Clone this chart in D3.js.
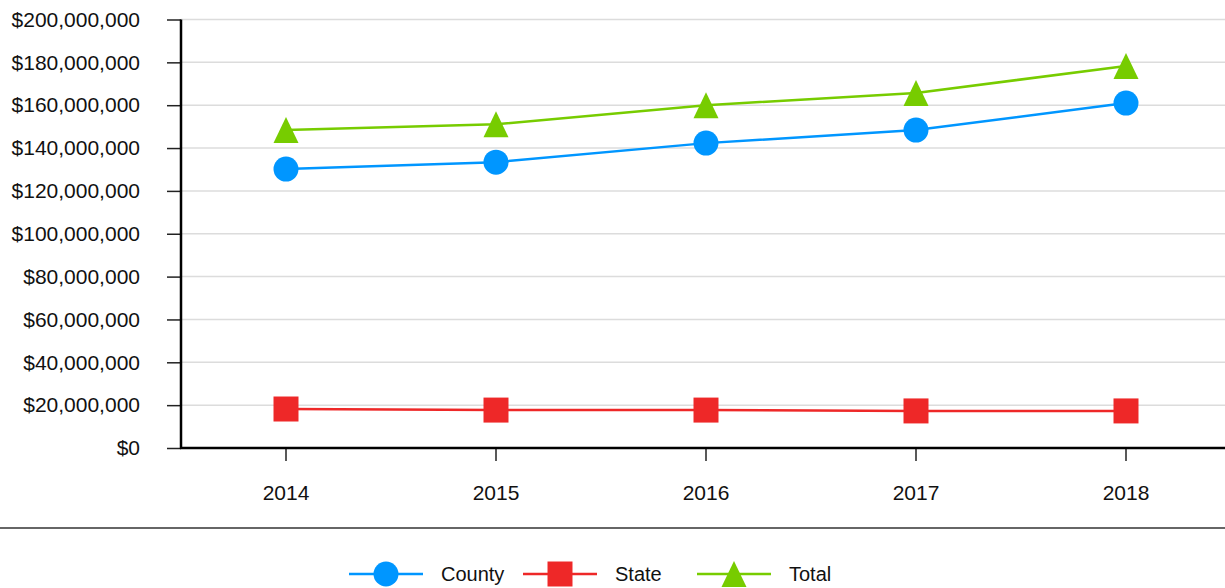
<!DOCTYPE html>
<html>
<head>
<meta charset="utf-8">
<script src="https://cdn.jsdelivr.net/npm/d3@7"></script>
<style>
  body { margin: 0; background: #fff; }
  svg { display: block; font-family: "Liberation Sans", Arial, sans-serif; }
</style>
</head>
<body>
<div id="container"></div>
<script>
// chart data
var years = ["2014", "2015", "2016", "2017", "2018"];
var county = [130200000, 133400000, 142300000, 148400000, 161000000];
var state = [18200000, 17700000, 17700000, 17300000, 17300000];
var total = [148400000, 151100000, 160000000, 165700000, 178300000];
var yTicks = [0, 20000000, 40000000, 60000000, 80000000, 100000000, 120000000, 140000000, 160000000, 180000000, 200000000];
var seriesNames = ["County", "State", "Total"];

var width = 1225, height = 588;
var plotLeft = 181, plotTop = 19.5, plotBottom = 448;
var axisFont = "21px", legendFont = "20px";

var svg = d3.select("div#container")
  .append("svg")
  .attr("width", width)
  .attr("height", height);

var x = d3.scaleBand().domain(years).range([plotLeft, plotLeft + 1050]);
var y = d3.scaleLinear().domain([0, 200000000]).range([plotBottom, plotTop]);

var fmt = function(v) { return "$" + d3.format(",")(v); };

// gridlines
svg.append("g").selectAll("line")
  .data(yTicks.slice(1))
  .enter().append("line")
  .attr("x1", plotLeft).attr("x2", width)
  .attr("y1", function(d) { return y(d); })
  .attr("y2", function(d) { return y(d); })
  .style("stroke", "#dcdcdc")
  .style("stroke-width", 1.5);

// y axis
var yAxis = svg.append("g")
  .attr("transform", "translate(" + plotLeft + ",0)")
  .call(d3.axisLeft(y).tickValues(yTicks).tickFormat(fmt).tickSize(14).tickPadding(27));
yAxis.select(".domain").remove();
yAxis.selectAll(".tick line").style("stroke", "#222").style("stroke-width", 1.5);
yAxis.selectAll("text").style("font-size", axisFont).style("fill", "#111")
  .style("font-family", "'Liberation Sans', Arial, sans-serif");

// x axis
var xAxis = svg.append("g")
  .attr("transform", "translate(0," + plotBottom + ")")
  .call(d3.axisBottom(x).tickSize(13).tickPadding(24));
xAxis.select(".domain").remove();
xAxis.selectAll(".tick line").style("stroke", "#222").style("stroke-width", 1.5);
xAxis.selectAll("text").style("font-size", axisFont).style("fill", "#111")
  .style("font-family", "'Liberation Sans', Arial, sans-serif");

// axis lines
svg.append("line").attr("x1", plotLeft).attr("x2", plotLeft).attr("y1", plotTop).attr("y2", plotBottom + 1)
  .style("stroke", "#000").style("stroke-width", 2.5);
svg.append("line").attr("x1", plotLeft - 1).attr("x2", width).attr("y1", plotBottom).attr("y2", plotBottom)
  .style("stroke", "#000").style("stroke-width", 2.5);

var colors = ["#0096ff", "#ee2828", "#77cc00"];
var data = [county, state, total];

var cx = function(i) { return x(years[i]) + x.bandwidth() / 2; };

// marker shapes, centered on the point
var markerPaths = [
  "M12.5,0A12.5,12.5,0,1,1,-12.5,0A12.5,12.5,0,1,1,12.5,0Z",
  "M-12.5,-12.5H12.5V12.5H-12.5Z",
  "M0,-13L12.5,13H-12.5Z"
];

function marker(g, k, px, py) {
  g.append("path")
    .attr("d", markerPaths[k])
    .attr("transform", "translate(" + px + "," + py + ")")
    .style("fill", colors[k]);
}

data.forEach(function(vals, k) {
  var line = d3.line()
    .x(function(d, i) { return cx(i); })
    .y(function(d) { return y(d); });
  svg.append("path")
    .datum(vals)
    .attr("d", line)
    .style("fill", "none")
    .style("stroke", colors[k])
    .style("stroke-width", 2.5);
  var g = svg.append("g");
  vals.forEach(function(v, i) { marker(g, k, cx(i), y(v)); });
});

// separator above legend
svg.append("line").attr("x1", 0).attr("x2", width).attr("y1", 528).attr("y2", 528)
  .style("stroke", "#333").style("stroke-width", 1.5);

// legend
var legendX = [349, 523, 697];
var ly = 574;
seriesNames.forEach(function(name, k) {
  var g = svg.append("g");
  g.append("line").attr("x1", legendX[k]).attr("x2", legendX[k] + 74)
    .attr("y1", ly).attr("y2", ly)
    .style("stroke", colors[k]).style("stroke-width", 2.5);
  marker(g, k, legendX[k] + 37, ly);
  g.append("text").attr("x", legendX[k] + 92).attr("y", ly).attr("dy", "0.35em")
    .style("font-size", legendFont).style("fill", "#111").text(name);
});
</script>
</body>
</html>
